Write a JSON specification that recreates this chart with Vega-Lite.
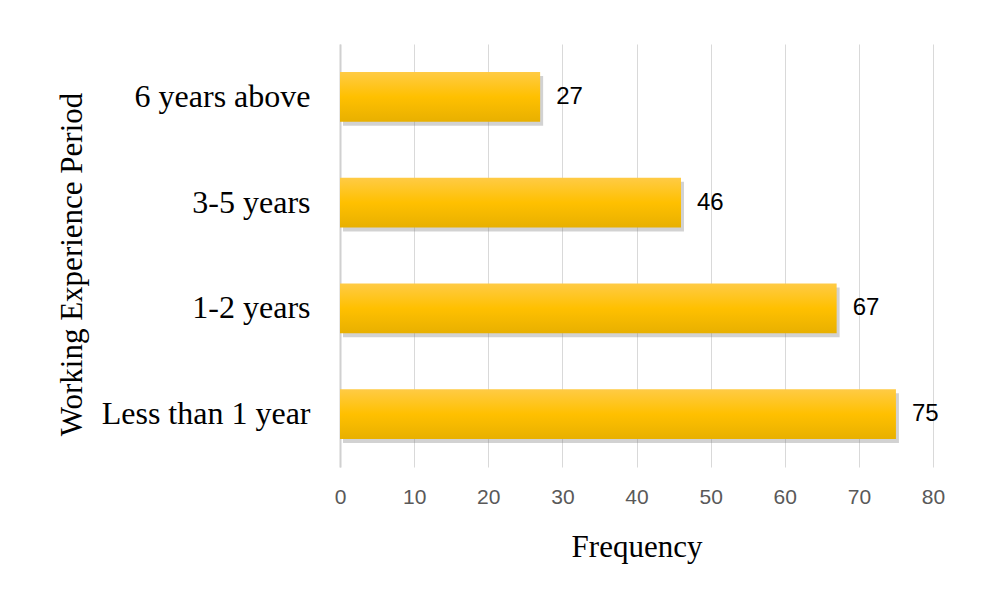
{
  "$schema": "https://vega.github.io/schema/vega-lite/v6.json",
  "autosize": {"type": "none"},
  "width": 593,
  "height": 423,
  "padding": {"left": 340, "top": 44, "right": 54, "bottom": 133},
  "background": "white",
  "config": {"view": {"stroke": null}},
  "data": {"values": [
    {"period": "6 years above", "frequency": 27},
    {"period": "3-5 years", "frequency": 46},
    {"period": "1-2 years", "frequency": 67},
    {"period": "Less than 1 year", "frequency": 75}
  ]},
  "encoding": {
    "y": {
      "field": "period", "type": "nominal",
      "sort": ["6 years above", "3-5 years", "1-2 years", "Less than 1 year"],
      "scale": {"paddingInner": 0.53, "paddingOuter": 0.265},
      "axis": {
        "title": "Working Experience Period",
        "titleFont": "Liberation Serif", "titleFontSize": 31, "titleFontWeight": "normal", "titleColor": "#000000",
        "titleX": -252, "titleY": 220, "titleAngle": -90, "titleBaseline": "bottom", "titleAlign": "center",
        "labelFont": "Liberation Serif", "labelFontSize": 32, "labelColor": "#000000",
        "labelPadding": 30, "labelLimit": 400, "ticks": false,
        "domainColor": "#d0d0d0", "domainWidth": 2
      }
    },
    "x": {
      "field": "frequency", "type": "quantitative",
      "scale": {"domain": [0, 80], "nice": false},
      "axis": {
        "title": "Frequency", "values": [0,10,20,30,40,50,60,70,80],
        "titleFont": "Liberation Serif", "titleFontSize": 31, "titleFontWeight": "normal", "titleColor": "#000000",
        "titlePadding": 25,
        "labelFont": "Liberation Sans", "labelFontSize": 21, "labelColor": "#595959",
        "labelPadding": 19, "labelFlush": false, "ticks": false, "domain": false,
        "grid": true, "gridColor": "#d9d9d9", "gridWidth": 1
      }
    }
  },
  "layer": [
    {
      "mark": {"type": "bar", "color": "#7f7f7f", "opacity": 0.35, "xOffset": 3, "yOffset": 4},
      "encoding": {}
    },
    {
      "mark": {
        "type": "bar",
        "color": {
          "gradient": "linear", "x1": 0, "y1": 0, "x2": 0, "y2": 1,
          "stops": [
            {"offset": 0, "color": "#FFCB45"},
            {"offset": 0.5, "color": "#FFC000"},
            {"offset": 1, "color": "#E8B000"}
          ]
        }
      }
    },
    {
      "mark": {"type": "text", "align": "left", "baseline": "middle", "dx": 16, "font": "Liberation Sans", "fontSize": 24, "color": "#000000"},
      "encoding": {"text": {"field": "frequency", "type": "quantitative"}}
    }
  ]
}
